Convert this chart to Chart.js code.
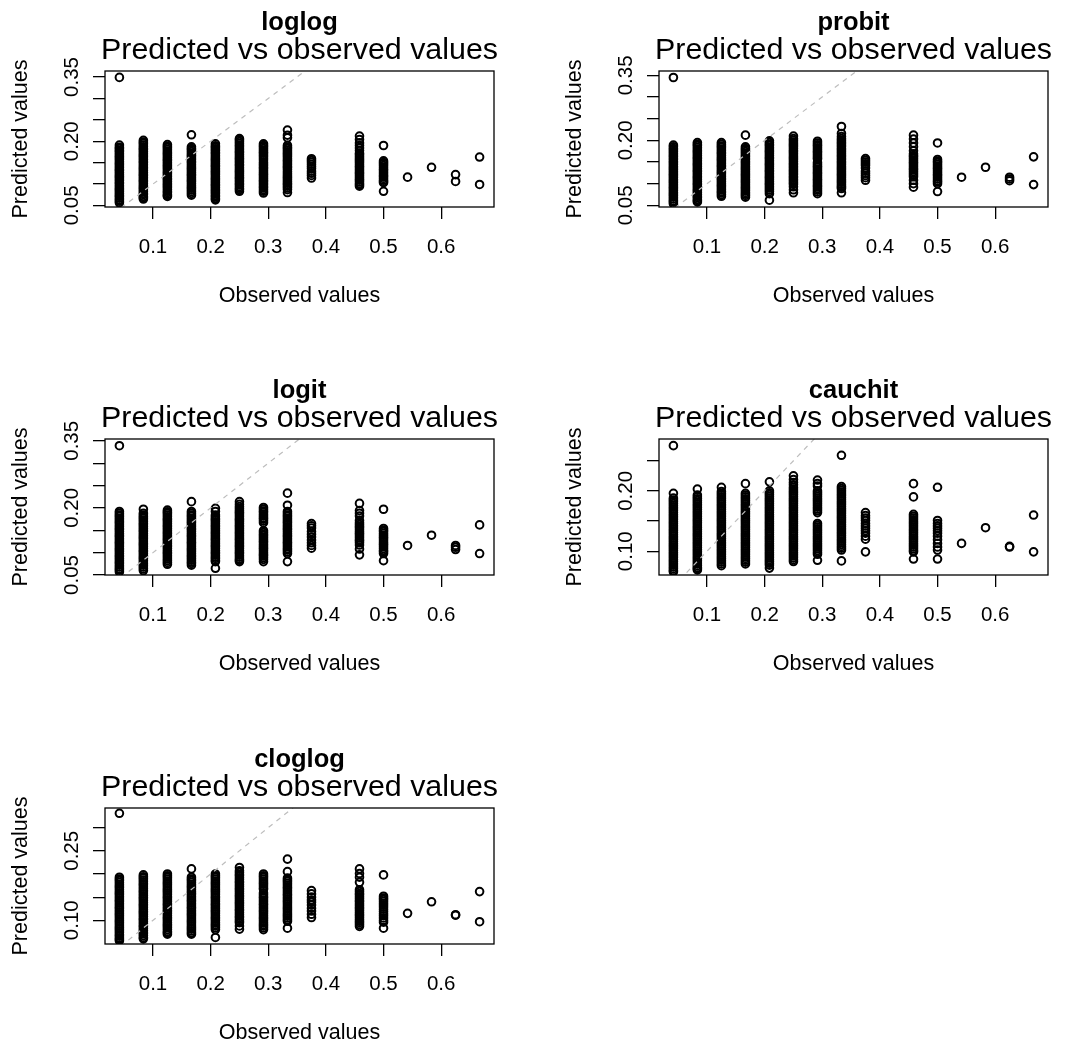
<!DOCTYPE html>
<html>
<head>
<meta charset="utf-8">
<script src="https://cdn.jsdelivr.net/npm/chart.js@4.4.1/dist/chart.umd.min.js"></script>
<style>
html,body{margin:0;padding:0;background:#fff;overflow:hidden;}
#wrap{position:relative;width:1066px;height:1045px;overflow:hidden;background:#fff;}
#wrap canvas{position:absolute;}
</style>
</head>
<body>
<div id="wrap"></div>
<script>
// ---------------- data ----------------
const linkNames = ['loglog', 'probit', 'logit', 'cauchit', 'cloglog'];
const mainTitle = 'Predicted vs observed values';
const xAxisTitle = 'Observed values';
const yAxisTitle = 'Predicted values';

// observed proportions (one column of points per value)
const observed = [0.0417, 0.0833, 0.125, 0.1667, 0.2083, 0.25, 0.2917, 0.3333, 0.375, 0.4583, 0.5, 0.5417, 0.5833, 0.625, 0.6667];

// predicted values, one inner list per observed column
const predLoglog = [
 [0.349,0.191,0.186,0.183,0.179,0.176,0.172,0.168,0.164,0.161,0.157,0.153,0.149,0.146,0.142,0.138,0.134,0.131,0.127,0.123,0.119,0.116,0.112,0.108,0.104,0.101,0.097,0.093,0.089,0.086,0.082,0.078,0.074,0.071,0.067,0.063,0.060,0.056],
 [0.202,0.198,0.195,0.191,0.187,0.183,0.180,0.176,0.172,0.168,0.165,0.161,0.157,0.153,0.150,0.146,0.142,0.138,0.135,0.131,0.127,0.123,0.120,0.116,0.112,0.108,0.105,0.101,0.097,0.093,0.090,0.086,0.082,0.078,0.075,0.071,0.068,0.065],
 [0.192,0.188,0.185,0.181,0.177,0.173,0.170,0.166,0.162,0.158,0.155,0.151,0.147,0.143,0.140,0.136,0.132,0.128,0.125,0.121,0.117,0.113,0.110,0.106,0.102,0.098,0.095,0.091,0.087,0.083,0.080,0.076,0.073,0.071],
 [0.215,0.187,0.183,0.180,0.176,0.172,0.168,0.165,0.161,0.157,0.153,0.150,0.146,0.142,0.138,0.135,0.131,0.127,0.123,0.120,0.116,0.112,0.108,0.105,0.101,0.097,0.093,0.090,0.086,0.082,0.078,0.074],
 [0.194,0.189,0.186,0.182,0.178,0.174,0.171,0.167,0.163,0.159,0.156,0.152,0.148,0.144,0.141,0.137,0.133,0.129,0.126,0.122,0.118,0.114,0.111,0.107,0.103,0.099,0.096,0.092,0.088,0.084,0.081,0.077,0.073,0.070,0.066,0.063],
 [0.206,0.203,0.199,0.195,0.191,0.188,0.184,0.180,0.176,0.173,0.169,0.165,0.161,0.158,0.154,0.150,0.146,0.143,0.139,0.135,0.131,0.128,0.124,0.120,0.116,0.113,0.109,0.105,0.101,0.098,0.094,0.090,0.087,0.083],
 [0.194,0.190,0.187,0.183,0.179,0.175,0.172,0.168,0.164,0.160,0.156,0.151,0.147,0.143,0.139,0.136,0.132,0.128,0.124,0.121,0.117,0.113,0.109,0.106,0.102,0.098,0.094,0.091,0.087,0.083,0.079],
 [0.226,0.214,0.208,0.190,0.186,0.183,0.179,0.175,0.171,0.168,0.164,0.160,0.156,0.153,0.149,0.145,0.141,0.138,0.134,0.129,0.125,0.121,0.117,0.114,0.110,0.106,0.102,0.099,0.095,0.091,0.087,0.080],
 [0.159,0.155,0.151,0.146,0.141,0.136,0.130,0.125,0.120,0.114],
 [0.212,0.204,0.196,0.190,0.184,0.178,0.172,0.169,0.165,0.161,0.157,0.154,0.150,0.146,0.142,0.139,0.135,0.131,0.127,0.124,0.120,0.116,0.112,0.109,0.105,0.101,0.098,0.095],
 [0.190,0.154,0.150,0.147,0.143,0.139,0.135,0.132,0.128,0.124,0.120,0.117,0.113,0.109,0.106,0.103,0.083],
 [0.116],
 [0.139],
 [0.122,0.106],
 [0.163,0.099]
];

const predProbit = [
 [0.345,0.189,0.185,0.181,0.178,0.174,0.170,0.166,0.163,0.159,0.155,0.151,0.148,0.144,0.140,0.136,0.133,0.129,0.125,0.121,0.118,0.114,0.110,0.106,0.103,0.099,0.095,0.091,0.088,0.084,0.080,0.076,0.073,0.069,0.065,0.061,0.058,0.054],
 [0.195,0.191,0.188,0.184,0.180,0.176,0.173,0.169,0.165,0.161,0.158,0.154,0.150,0.146,0.143,0.139,0.135,0.131,0.128,0.124,0.120,0.116,0.113,0.109,0.105,0.101,0.098,0.094,0.090,0.086,0.083,0.079,0.075,0.071,0.068,0.064,0.061,0.058],
 [0.195,0.191,0.187,0.184,0.180,0.176,0.172,0.169,0.165,0.161,0.157,0.154,0.150,0.146,0.142,0.139,0.135,0.131,0.127,0.124,0.120,0.116,0.112,0.109,0.105,0.101,0.097,0.094,0.090,0.086,0.082,0.079,0.075,0.071],
 [0.212,0.185,0.181,0.178,0.174,0.170,0.166,0.163,0.159,0.155,0.151,0.148,0.144,0.140,0.136,0.133,0.129,0.125,0.121,0.118,0.114,0.110,0.106,0.103,0.099,0.095,0.091,0.088,0.084,0.080,0.076,0.073,0.069],
 [0.199,0.195,0.191,0.188,0.184,0.180,0.176,0.173,0.169,0.165,0.161,0.158,0.154,0.150,0.146,0.143,0.139,0.135,0.131,0.128,0.124,0.120,0.116,0.113,0.109,0.105,0.101,0.098,0.094,0.090,0.086,0.082,0.077,0.062],
 [0.210,0.204,0.200,0.196,0.192,0.189,0.185,0.181,0.177,0.174,0.170,0.166,0.162,0.159,0.155,0.151,0.147,0.144,0.140,0.136,0.132,0.129,0.125,0.121,0.117,0.114,0.110,0.106,0.102,0.099,0.093,0.086,0.079],
 [0.198,0.194,0.190,0.187,0.183,0.179,0.175,0.172,0.168,0.164,0.160,0.157,0.149,0.145,0.141,0.138,0.134,0.130,0.126,0.123,0.119,0.115,0.111,0.108,0.104,0.100,0.096,0.093,0.089,0.085,0.081,0.077],
 [0.232,0.216,0.209,0.204,0.200,0.196,0.193,0.189,0.185,0.181,0.178,0.174,0.170,0.166,0.163,0.159,0.155,0.151,0.148,0.144,0.140,0.136,0.133,0.129,0.125,0.121,0.118,0.114,0.110,0.106,0.103,0.099,0.095,0.092,0.089,0.079],
 [0.158,0.154,0.150,0.146,0.142,0.136,0.129,0.124,0.119,0.114,0.108],
 [0.212,0.203,0.194,0.185,0.176,0.169,0.165,0.162,0.158,0.154,0.150,0.147,0.143,0.139,0.135,0.132,0.128,0.124,0.120,0.116,0.108,0.100,0.092],
 [0.194,0.156,0.152,0.149,0.145,0.141,0.137,0.134,0.130,0.126,0.122,0.119,0.115,0.111,0.107,0.104,0.100,0.082],
 [0.115],
 [0.138],
 [0.115,0.111,0.107],
 [0.162,0.098]
];

const predLogit = [
 [0.339,0.192,0.188,0.184,0.181,0.177,0.173,0.169,0.166,0.162,0.158,0.154,0.151,0.147,0.143,0.139,0.136,0.132,0.128,0.124,0.121,0.117,0.113,0.109,0.106,0.102,0.098,0.094,0.091,0.087,0.083,0.079,0.076,0.072,0.068,0.064,0.061,0.057],
 [0.197,0.188,0.184,0.180,0.177,0.173,0.169,0.165,0.162,0.158,0.154,0.150,0.147,0.143,0.139,0.135,0.132,0.128,0.124,0.120,0.117,0.113,0.109,0.105,0.102,0.098,0.094,0.090,0.087,0.083,0.079,0.075,0.072,0.068,0.064,0.060],
 [0.195,0.191,0.188,0.184,0.180,0.176,0.173,0.169,0.165,0.161,0.158,0.154,0.150,0.146,0.143,0.139,0.135,0.131,0.128,0.124,0.120,0.116,0.113,0.109,0.105,0.101,0.098,0.094,0.090,0.086,0.082,0.078,0.074],
 [0.214,0.192,0.188,0.184,0.181,0.177,0.173,0.169,0.166,0.162,0.158,0.154,0.151,0.147,0.143,0.139,0.136,0.132,0.128,0.124,0.121,0.117,0.113,0.109,0.106,0.102,0.098,0.094,0.091,0.087,0.083,0.079,0.076,0.072],
 [0.199,0.192,0.184,0.180,0.176,0.173,0.169,0.165,0.161,0.158,0.154,0.150,0.146,0.143,0.139,0.135,0.131,0.128,0.124,0.120,0.116,0.113,0.109,0.105,0.101,0.098,0.094,0.090,0.087,0.083,0.080,0.065],
 [0.214,0.208,0.203,0.199,0.195,0.191,0.188,0.184,0.180,0.176,0.173,0.169,0.165,0.161,0.158,0.154,0.150,0.146,0.143,0.139,0.135,0.131,0.128,0.124,0.120,0.116,0.113,0.109,0.105,0.101,0.098,0.094,0.090,0.086,0.083,0.080],
 [0.201,0.197,0.193,0.190,0.186,0.182,0.178,0.175,0.171,0.167,0.149,0.145,0.141,0.138,0.134,0.130,0.126,0.123,0.119,0.115,0.111,0.108,0.104,0.100,0.096,0.093,0.089,0.085,0.080],
 [0.233,0.206,0.192,0.188,0.184,0.181,0.177,0.173,0.169,0.166,0.162,0.158,0.154,0.151,0.147,0.143,0.139,0.136,0.132,0.128,0.124,0.121,0.117,0.113,0.109,0.106,0.102,0.098,0.080],
 [0.165,0.160,0.155,0.147,0.141,0.135,0.128,0.122,0.116,0.110],
 [0.210,0.194,0.188,0.182,0.172,0.167,0.163,0.159,0.156,0.152,0.148,0.144,0.141,0.137,0.133,0.129,0.126,0.122,0.117,0.108,0.095],
 [0.197,0.154,0.150,0.147,0.143,0.139,0.135,0.132,0.128,0.124,0.120,0.117,0.113,0.109,0.105,0.102,0.098,0.082],
 [0.116],
 [0.139],
 [0.116,0.112,0.107],
 [0.162,0.098]
];

const predCauchit = [
 [0.275,0.196,0.188,0.185,0.182,0.179,0.176,0.173,0.170,0.167,0.164,0.161,0.158,0.155,0.152,0.149,0.146,0.143,0.140,0.137,0.134,0.131,0.128,0.125,0.122,0.119,0.116,0.113,0.110,0.107,0.104,0.101,0.098,0.095,0.092,0.089,0.086,0.083,0.080,0.077,0.074,0.071,0.068,0.066],
 [0.203,0.193,0.190,0.187,0.184,0.181,0.178,0.175,0.172,0.169,0.166,0.163,0.160,0.157,0.154,0.151,0.148,0.145,0.142,0.139,0.136,0.133,0.130,0.127,0.124,0.121,0.118,0.115,0.112,0.109,0.106,0.103,0.100,0.097,0.094,0.091,0.088,0.085,0.082,0.079,0.076,0.073,0.071,0.069],
 [0.206,0.199,0.196,0.193,0.190,0.187,0.184,0.181,0.178,0.175,0.172,0.169,0.166,0.163,0.160,0.157,0.154,0.151,0.148,0.145,0.142,0.139,0.136,0.133,0.130,0.127,0.124,0.121,0.118,0.115,0.112,0.109,0.106,0.103,0.100,0.097,0.094,0.091,0.088,0.085,0.082,0.079,0.076],
 [0.212,0.196,0.193,0.190,0.187,0.184,0.181,0.178,0.175,0.172,0.169,0.166,0.163,0.160,0.157,0.154,0.151,0.148,0.145,0.142,0.139,0.136,0.133,0.130,0.127,0.124,0.121,0.118,0.115,0.112,0.109,0.106,0.103,0.100,0.097,0.094,0.091,0.088,0.085,0.082,0.079],
 [0.215,0.200,0.197,0.194,0.191,0.188,0.185,0.182,0.179,0.176,0.173,0.170,0.167,0.164,0.161,0.158,0.155,0.152,0.149,0.146,0.143,0.140,0.137,0.134,0.131,0.128,0.125,0.122,0.119,0.116,0.113,0.110,0.107,0.104,0.101,0.098,0.095,0.092,0.089,0.086,0.083,0.080,0.077,0.072],
 [0.225,0.219,0.214,0.210,0.206,0.203,0.200,0.197,0.194,0.191,0.188,0.185,0.182,0.179,0.176,0.173,0.170,0.167,0.164,0.161,0.158,0.155,0.152,0.149,0.146,0.143,0.140,0.137,0.134,0.131,0.128,0.125,0.122,0.119,0.116,0.113,0.110,0.107,0.104,0.101,0.098,0.095,0.092,0.089,0.086,0.083],
 [0.218,0.212,0.208,0.200,0.197,0.194,0.191,0.188,0.185,0.182,0.179,0.176,0.173,0.170,0.167,0.164,0.146,0.143,0.140,0.137,0.134,0.131,0.128,0.125,0.122,0.119,0.116,0.113,0.110,0.107,0.104,0.101,0.098,0.095,0.085],
 [0.259,0.207,0.204,0.201,0.198,0.195,0.192,0.189,0.186,0.183,0.180,0.177,0.174,0.171,0.168,0.165,0.162,0.159,0.156,0.153,0.150,0.147,0.144,0.141,0.138,0.135,0.132,0.129,0.126,0.123,0.120,0.117,0.114,0.111,0.108,0.105,0.102,0.084],
 [0.164,0.159,0.155,0.151,0.146,0.142,0.138,0.134,0.130,0.125,0.120,0.099],
 [0.212,0.190,0.161,0.158,0.155,0.152,0.149,0.146,0.143,0.140,0.137,0.134,0.131,0.128,0.125,0.122,0.119,0.116,0.113,0.110,0.107,0.104,0.101,0.099,0.087],
 [0.206,0.151,0.146,0.142,0.138,0.134,0.130,0.125,0.119,0.113,0.107,0.102,0.087],
 [0.113],
 [0.139],
 [0.108,0.107],
 [0.160,0.099]
];

const predCloglog = [
 [0.331,0.193,0.189,0.186,0.182,0.178,0.174,0.171,0.167,0.163,0.159,0.156,0.152,0.148,0.144,0.141,0.137,0.133,0.129,0.126,0.122,0.118,0.114,0.111,0.107,0.103,0.099,0.096,0.092,0.088,0.084,0.081,0.077,0.073,0.069,0.066,0.062,0.059,0.056],
 [0.198,0.194,0.191,0.187,0.183,0.179,0.176,0.172,0.168,0.164,0.161,0.157,0.153,0.149,0.146,0.142,0.138,0.134,0.131,0.127,0.123,0.119,0.116,0.112,0.108,0.104,0.101,0.097,0.093,0.089,0.086,0.082,0.078,0.074,0.071,0.067,0.063,0.060],
 [0.200,0.196,0.193,0.189,0.185,0.181,0.178,0.174,0.170,0.166,0.163,0.159,0.155,0.151,0.148,0.144,0.140,0.136,0.133,0.129,0.125,0.121,0.118,0.114,0.110,0.106,0.103,0.099,0.095,0.091,0.088,0.084,0.080,0.076,0.073,0.070],
 [0.211,0.193,0.189,0.186,0.182,0.178,0.174,0.171,0.167,0.163,0.159,0.156,0.152,0.148,0.144,0.141,0.137,0.133,0.129,0.126,0.122,0.118,0.114,0.111,0.107,0.103,0.099,0.096,0.092,0.088,0.084,0.081,0.077,0.073,0.070],
 [0.200,0.196,0.193,0.189,0.185,0.181,0.178,0.174,0.170,0.166,0.163,0.159,0.155,0.151,0.148,0.144,0.140,0.136,0.133,0.129,0.125,0.121,0.118,0.114,0.110,0.106,0.103,0.099,0.095,0.091,0.088,0.084,0.080,0.063],
 [0.214,0.207,0.203,0.199,0.196,0.192,0.188,0.184,0.181,0.177,0.173,0.169,0.166,0.162,0.158,0.154,0.151,0.147,0.143,0.139,0.136,0.132,0.128,0.124,0.121,0.117,0.113,0.109,0.106,0.102,0.098,0.095,0.088,0.081],
 [0.200,0.196,0.193,0.189,0.185,0.181,0.178,0.174,0.170,0.167,0.159,0.155,0.151,0.148,0.144,0.140,0.136,0.133,0.129,0.125,0.121,0.118,0.114,0.110,0.106,0.103,0.099,0.095,0.091,0.088,0.084,0.080],
 [0.232,0.205,0.191,0.187,0.184,0.180,0.176,0.172,0.169,0.165,0.161,0.157,0.154,0.150,0.146,0.142,0.139,0.135,0.131,0.127,0.124,0.120,0.116,0.112,0.109,0.105,0.101,0.098,0.083],
 [0.164,0.157,0.150,0.144,0.139,0.133,0.126,0.120,0.113,0.106],
 [0.211,0.201,0.193,0.182,0.166,0.162,0.158,0.155,0.151,0.147,0.143,0.140,0.136,0.132,0.128,0.125,0.121,0.117,0.113,0.110,0.106,0.102,0.098,0.095,0.091,0.087],
 [0.198,0.152,0.148,0.145,0.141,0.137,0.133,0.129,0.124,0.119,0.114,0.110,0.105,0.100,0.096,0.083],
 [0.115],
 [0.140],
 [0.112,0.111],
 [0.162,0.097]
];

const predictedByLink = [predLoglog, predProbit, predLogit, predCauchit, predCloglog];

// axis limits and ticks
const xLimits = [0.0167, 0.6917];
const xTicks = [0.1, 0.2, 0.3, 0.4, 0.5, 0.6];
const xTickLabels = ['0.1', '0.2', '0.3', '0.4', '0.5', '0.6'];

const yLimitsLoglog = [0.0463, 0.364];
const yLimitsProbit = [0.0463, 0.360];
const yLimitsLogit = [0.050, 0.354];
const yLimitsCauchit = [0.0606, 0.286];
const yLimitsCloglog = [0.0489, 0.3424];
const yLimits = [yLimitsLoglog, yLimitsProbit, yLimitsLogit, yLimitsCauchit, yLimitsCloglog];

const yTicksA = [0.05, 0.10, 0.15, 0.20, 0.25, 0.30, 0.35];
const yTicksCauchit = [0.10, 0.15, 0.20, 0.25];
const yTicksCloglog = [0.10, 0.15, 0.20, 0.25, 0.30];
const yTicks = [yTicksA, yTicksA, yTicksA, yTicksCauchit, yTicksCloglog];

const yLabelValuesA = [0.05, 0.20, 0.35];
const yLabelValuesCauchit = [0.10, 0.20];
const yLabelValuesCloglog = [0.10, 0.25];
const yLabelValues = [yLabelValuesA, yLabelValuesA, yLabelValuesA, yLabelValuesCauchit, yLabelValuesCloglog];
const yLabelTextA = ['0.05', '0.20', '0.35'];
const yLabelTextCauchit = ['0.10', '0.20'];
const yLabelTextCloglog = ['0.10', '0.25'];
const yLabelText = [yLabelTextA, yLabelTextA, yLabelTextA, yLabelTextCauchit, yLabelTextCloglog];

// reference line y = intercept + slope * x
const abline = {intercept: 0, slope: 1};

// ---------------- layout ----------------
const panelLeft = [0, 554, 0, 554, 0];
const panelTop = [0, 0, 368, 368, 737];
const CW = 599, CH = 310, AXW = 105, BOXBOTTOM = 207;

Chart.defaults.font.family = '"Liberation Sans", Arial, Helvetica, sans-serif';
Chart.defaults.color = '#000';

const rotatedYLabels = {
  id: 'rotatedYLabels',
  afterDraw(chart, args, opts) {
    const ctx = chart.ctx, area = chart.chartArea, ys = chart.scales.y;
    ctx.save();
    ctx.fillStyle = '#000';
    ctx.font = opts.font;
    ctx.textAlign = 'center';
    ctx.textBaseline = 'alphabetic';
    opts.values.forEach((v, i) => {
      const py = ys.getPixelForValue(v);
      ctx.save();
      ctx.translate(area.left - opts.offset, py);
      ctx.rotate(-Math.PI / 2);
      ctx.fillText(opts.labels[i], 0, 0);
      ctx.restore();
    });
    ctx.restore();
  }
};

const plotBox = {
  id: 'plotBox',
  afterDraw(chart) {
    const ctx = chart.ctx, a = chart.chartArea;
    ctx.save();
    ctx.strokeStyle = '#000';
    ctx.lineWidth = 1.3;
    ctx.strokeRect(a.left, a.top, a.right - a.left, a.bottom - a.top);
    ctx.restore();
  }
};

const wrap = document.getElementById('wrap');

linkNames.forEach((name, p) => {
  const canvas = document.createElement('canvas');
  canvas.width = CW; canvas.height = CH;
  canvas.style.left = panelLeft[p] + 'px';
  canvas.style.top = panelTop[p] + 'px';
  canvas.style.width = CW + 'px';
  canvas.style.height = CH + 'px';
  wrap.appendChild(canvas);

  const pts = [];
  predictedByLink[p].forEach((col, i) => col.forEach(v => pts.push({x: observed[i], y: v})));
  const linePts = [
    {x: xLimits[0], y: abline.intercept + abline.slope * xLimits[0]},
    {x: xLimits[1], y: abline.intercept + abline.slope * xLimits[1]}
  ];
  const tickGrid = {display: true, drawOnChartArea: false, drawTicks: true, tickLength: 12, color: '#000', lineWidth: 1.3};

  new Chart(canvas, {
    type: 'scatter',
    data: {
      datasets: [
        {label: 'y = x', data: linePts, showLine: true, borderColor: '#bdbdbd', borderWidth: 1.2,
         borderDash: [5, 5], pointRadius: 0, pointHoverRadius: 0, order: 0},
        {label: name, data: pts, pointStyle: 'circle', pointRadius: 3.8, pointHoverRadius: 3.8,
         pointBorderWidth: 2, pointBorderColor: '#000', pointBackgroundColor: 'rgba(0,0,0,0)',
         borderColor: '#000', backgroundColor: 'rgba(0,0,0,0)', order: 1}
      ]
    },
    options: {
      responsive: false,
      animation: false,
      devicePixelRatio: 1,
      events: [],
      layout: {padding: 0},
      plugins: {
        legend: {display: false},
        tooltip: {enabled: false},
        title: {display: true, text: name, color: '#000',
                font: {size: 25.5, weight: 'bold', lineHeight: 1}, padding: {top: 10, bottom: 0}},
        subtitle: {display: true, text: mainTitle, color: '#000',
                font: {size: 30.4, weight: 'normal', lineHeight: 1}, padding: {top: 0, bottom: 5.1}},
        rotatedYLabels: {values: yLabelValues[p], labels: yLabelText[p], offset: 27,
                font: '20.5px "Liberation Sans", Arial, sans-serif'}
      },
      scales: {
        x: {
          type: 'linear', position: 'bottom', min: xLimits[0], max: xLimits[1],
          border: {display: false},
          grid: tickGrid,
          ticks: {color: '#000', font: {size: 20.5}, padding: 16, maxRotation: 0, minRotation: 0,
                  autoSkip: false, callback: (v, i) => xTickLabels[i]},
          afterBuildTicks: s => { s.ticks = xTicks.map(v => ({value: v})); },
          afterFit: s => { s.height = CH - BOXBOTTOM; },
          title: {display: true, text: xAxisTitle, color: '#000', font: {size: 21.5},
                  padding: {top: 0, bottom: 0.6}}
        },
        y: {
          type: 'linear', position: 'left', min: yLimits[p][0], max: yLimits[p][1],
          border: {display: false},
          grid: tickGrid,
          ticks: {display: false},
          afterBuildTicks: s => { s.ticks = yTicks[p].map(v => ({value: v})); },
          afterFit: s => { s.width = AXW; },
          title: {display: true, text: yAxisTitle, color: '#000', font: {size: 21.5},
                  padding: {top: 7.9, bottom: 0}}
        },
        yRight: {
          type: 'linear', position: 'right', display: true,
          border: {display: false}, grid: {display: false}, ticks: {display: false},
          afterFit: s => { s.width = AXW; }
        }
      }
    },
    plugins: [rotatedYLabels, plotBox]
  });
});
</script>
</body>
</html>
